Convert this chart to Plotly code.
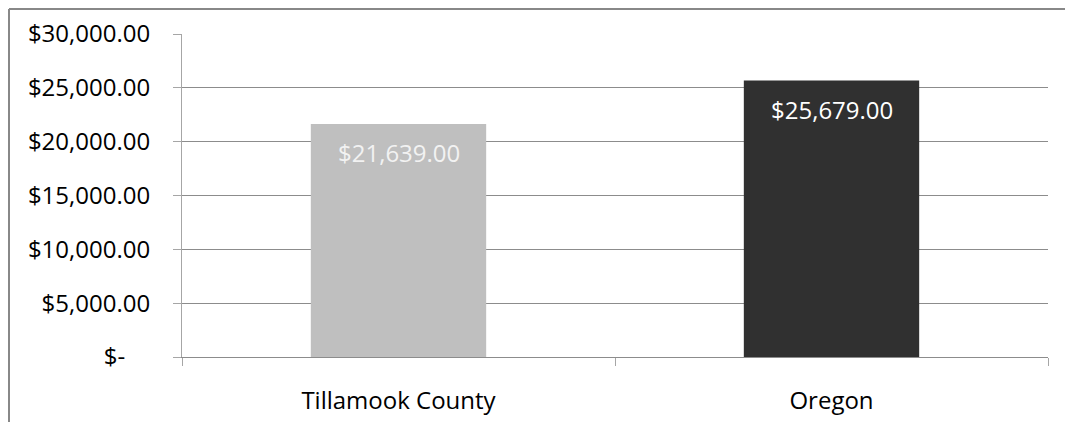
import plotly.graph_objects as go

categories = ["Tillamook County", "Oregon"]
values = [21639.00, 25679.00]
bar_colors = ["#BFBFBF", "#303030"]
label_colors = ["#F2F2F2", "#FFFFFF"]
tick_vals = [0, 5000, 10000, 15000, 20000, 25000, 30000]
tick_text = ["$-\u00a0\u00a0\u00a0\u00a0", "$5,000.00", "$10,000.00", "$15,000.00",
             "$20,000.00", "$25,000.00", "$30,000.00"]

FONT = "Open Sans, Liberation Sans, sans-serif"
GRID = "#8C8C8C"

fig = go.Figure(go.Bar(
    x=categories, y=values, marker=dict(color=bar_colors, line=dict(width=0)),
    width=0.405, hoverinfo="x+y",
))

for cat, val, col in zip(categories, values, label_colors):
    fig.add_annotation(x=cat, y=val, text=f"${val:,.2f}", showarrow=False,
                       yanchor="top", yshift=-10,
                       font=dict(family=FONT, size=24, color=col))

# chart frame (top and left edges); page body has an 8px margin
W, H = 1065, 414
L, R, T, B = 174, 25, 26, 65
pw, ph = W - L - R, H - T - B
fx = (1 - L) / pw
fy = 1 + (T - 1) / ph
fig.add_shape(type="line", xref="paper", yref="paper", x0=fx, x1=1.2, y0=fy, y1=fy,
              line=dict(color="#888888", width=2))
fig.add_shape(type="line", xref="paper", yref="paper", x0=fx, x1=fx, y0=-0.3, y1=fy,
              line=dict(color="#888888", width=2))

fig.update_layout(
    width=W, height=H,
    margin=dict(l=L, r=R, t=T, b=B, autoexpand=False),
    paper_bgcolor="white", plot_bgcolor="white",
    font=dict(family=FONT, size=24, color="black"),
    showlegend=False, bargap=0.6,
)
fig.update_yaxes(range=[0, 30000], tickvals=tick_vals, ticktext=tick_text,
                 showgrid=True, gridcolor=GRID, gridwidth=1, zeroline=False,
                 showline=True, linecolor="#A6A6A6", linewidth=1,
                 ticks="outside", ticklen=8, tickcolor="#A6A6A6", ticklabelstandoff=18,
                 tickfont=dict(size=24))
fig.update_xaxes(showgrid=False, showline=True, linecolor=GRID, linewidth=1,
                 ticks="outside", ticklen=8, tickcolor="#A6A6A6", tickson="boundaries",
                 ticklabelstandoff=22, tickfont=dict(size=24))

fig.write_html("out.html")
